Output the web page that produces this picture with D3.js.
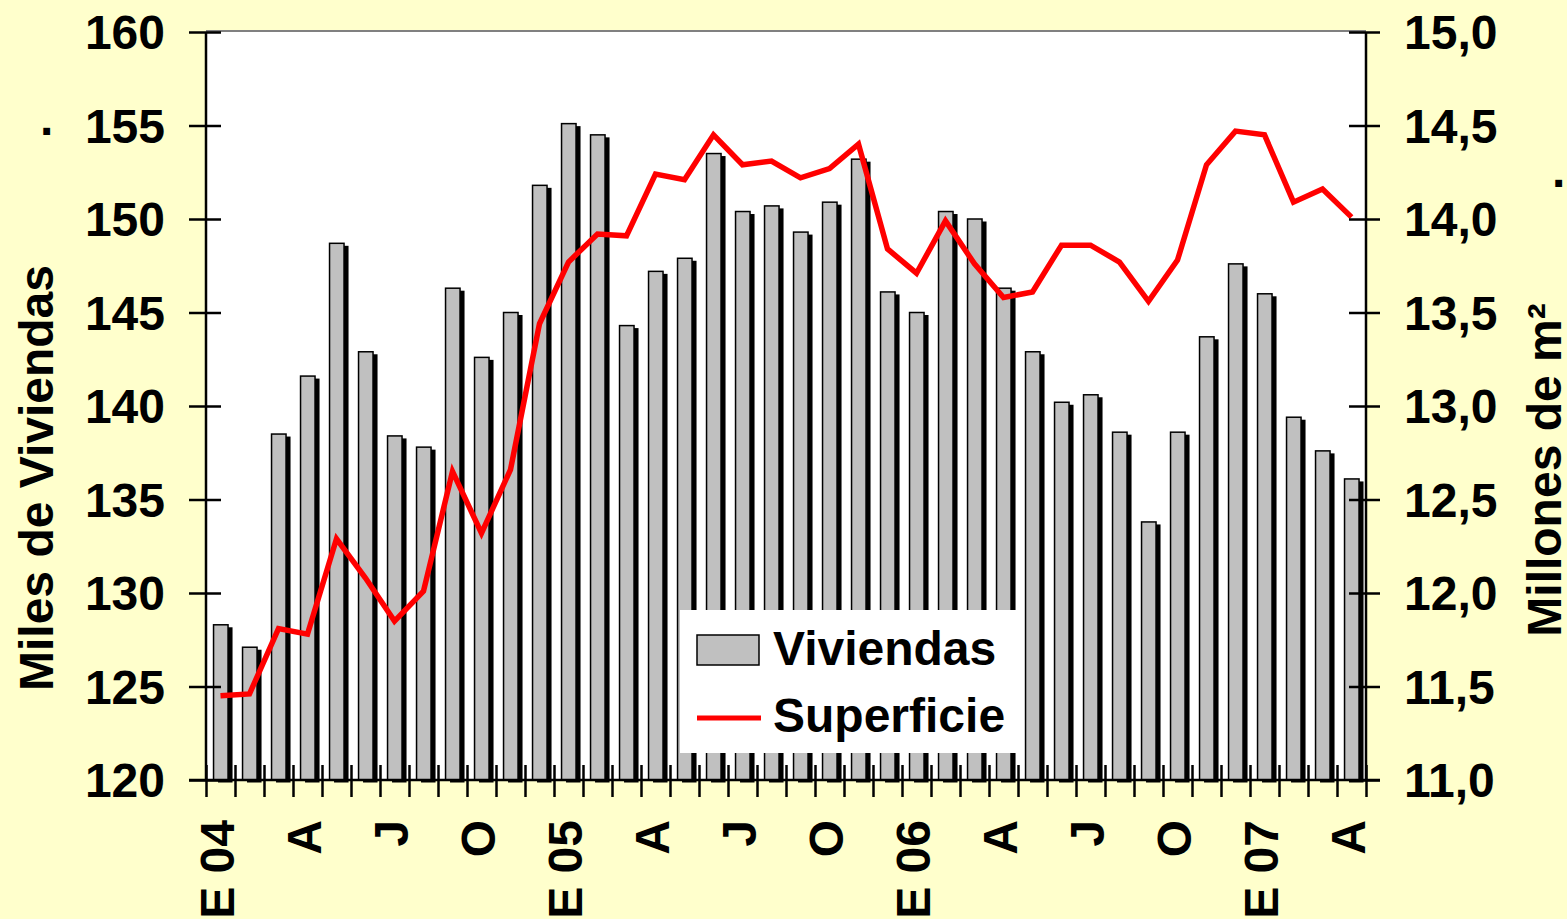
<!DOCTYPE html>
<html>
<head>
<meta charset="utf-8">
<script src="https://cdn.jsdelivr.net/npm/d3@7"></script>
<style>
  body { margin: 0; background: #ffffcc; }
  svg { display: block; }
  text { font-family: "Liberation Sans", Arial, sans-serif; font-weight: bold; fill: #000; }
</style>
</head>
<body>
<svg id="chart"></svg>
<script>
var width = 1567, height = 919;

// meses ene-04 .. abr-07
var meses = ["E04","F04","M04","A04","M04","J04","J04","A04","S04","O04","N04","D04",
             "E05","F05","M05","A05","M05","J05","J05","A05","S05","O05","N05","D05",
             "E06","F06","M06","A06","M06","J06","J06","A06","S06","O06","N06","D06",
             "E07","F07","M07","A07"];
var etiquetas = ["E 04","A","J","O","E 05","A","J","O","E 06","A","J","O","E 07","A"];
var viviendas = [128.3,127.1,138.5,141.6,148.7,142.9,138.4,137.8,146.3,142.6,145.0,151.8,
                 155.1,154.5,144.3,147.2,147.9,153.5,150.4,150.7,149.3,150.9,153.2,146.1,
                 145.0,150.4,150.0,146.3,142.9,140.2,140.6,138.6,133.8,138.6,143.7,147.6,
                 146.0,139.4,137.6,136.1];
var superficie = [11.45,11.46,11.81,11.78,12.29,12.08,11.85,12.01,12.65,12.32,12.66,13.44,
                  13.77,13.92,13.91,14.24,14.21,14.45,14.29,14.31,14.22,14.27,14.40,13.84,
                  13.71,13.99,13.76,13.58,13.61,13.86,13.86,13.77,13.56,13.78,14.29,14.47,
                  14.45,14.09,14.16,14.01];
var ticksIzq = [120,125,130,135,140,145,150,155,160];
var ticksDer = [11,11.5,12,12.5,13,13.5,14,14.5,15];

var pLeft = 206, pRight = 1366, pTop = 32, pBottom = 780;

var svg = d3.select("#chart")
    .attr("width", width)
    .attr("height", height);

svg.append("rect")
    .attr("width", width).attr("height", height)
    .attr("fill", "#ffffcc");

var x = d3.scaleBand()
    .domain(d3.range(meses.length))
    .range([pLeft, pRight])
    .padding(0);
var xb = d3.scaleLinear().domain([0, meses.length]).range([pLeft, pRight]);
var y = d3.scaleLinear().domain([120, 160]).range([pBottom, pTop]);
var y2 = d3.scaleLinear().domain([11, 15]).range([pBottom, pTop]);

var coma = d3.formatLocale({decimal: ",", thousands: ".", grouping: [3], currency: ["", "€"]});

// plot area
svg.append("rect")
    .attr("x", pLeft).attr("y", pTop)
    .attr("width", pRight - pLeft).attr("height", pBottom - pTop)
    .attr("fill", "#fff");
svg.append("line")
    .attr("x1", pLeft).attr("x2", pRight)
    .attr("y1", pTop - 1).attr("y2", pTop - 1)
    .attr("stroke", "#808080").attr("stroke-width", 2);

var bw = x.bandwidth();

// shadows
svg.append("g").selectAll("rect")
    .data(viviendas)
    .enter().append("rect")
    .attr("x", function(d, i){ return x(i) + bw * 0.26 + 4.5; })
    .attr("y", function(d){ return y(d) + 2.5; })
    .attr("width", bw * 0.5)
    .attr("height", function(d){ return pBottom - y(d); })
    .attr("fill", "#000");

// bars
svg.append("g").selectAll("rect")
    .data(viviendas)
    .enter().append("rect")
    .attr("x", function(d, i){ return x(i) + bw * 0.26; })
    .attr("y", function(d){ return y(d); })
    .attr("width", bw * 0.5)
    .attr("height", function(d){ return pBottom - y(d); })
    .attr("fill", "#c0c0c0")
    .attr("stroke", "#000")
    .attr("stroke-width", 1.5);

// line
var linea = d3.line()
    .x(function(d, i){ return x(i) + bw / 2; })
    .y(function(d){ return y2(d); });

svg.append("path")
    .datum(superficie)
    .attr("d", linea)
    .attr("fill", "none")
    .attr("stroke", "#ff0000")
    .attr("stroke-width", 5.5)
    .attr("stroke-linejoin", "miter");

// left axis
var ejeIzq = svg.append("g")
    .attr("transform", "translate(" + pLeft + ",0)")
    .call(d3.axisLeft(y).tickValues(ticksIzq).tickSize(17).tickPadding(24));
ejeIzq.selectAll(".tick line").attr("x2", -17).attr("x1", 15).attr("stroke-width", 2.5);
ejeIzq.select(".domain").attr("stroke-width", 2.5).attr("d", "M0," + pTop + "V" + pBottom);
ejeIzq.selectAll(".tick text").attr("font-size", 48).attr("font-family", null).attr("dy", "0.35em");

// right axis
var ejeDer = svg.append("g")
    .attr("transform", "translate(" + pRight + ",0)")
    .call(d3.axisRight(y2).tickValues(ticksDer).tickSize(14).tickPadding(24).tickFormat(coma.format(".1f")));
ejeDer.selectAll(".tick line").attr("x1", -17).attr("x2", 14).attr("stroke-width", 2.5);
ejeDer.select(".domain").attr("stroke-width", 2.5).attr("d", "M0," + pTop + "V" + pBottom);
ejeDer.selectAll(".tick text").attr("font-size", 48).attr("font-family", null).attr("dy", "0.35em");

// bottom axis
var ejeX = svg.append("g")
    .attr("transform", "translate(0," + pBottom + ")")
    .call(d3.axisBottom(xb).tickValues(d3.range(meses.length + 1)).tickSize(17).tickFormat(""));
ejeX.selectAll(".tick line").attr("y1", -15).attr("stroke-width", 2.5);
ejeX.select(".domain").attr("stroke-width", 2.5).attr("d", "M189,0H1380");

svg.append("g").selectAll("text")
    .data(etiquetas)
    .enter().append("text")
    .attr("transform", function(d, i){
        return "translate(" + (x(i * 3) + bw / 2 - 3) + ",820) rotate(-90)";
    })
    .attr("text-anchor", "end")
    .attr("dy", "0.35em")
    .attr("font-size", 48)
    .text(function(d){ return d; });

// axis titles
svg.append("text")
    .attr("transform", "translate(53,478) rotate(-90)")
    .attr("text-anchor", "middle")
    .attr("font-size", 48)
    .text("Miles de Viviendas");
svg.append("text")
    .attr("transform", "translate(1561,470) rotate(-90)")
    .attr("text-anchor", "middle")
    .attr("font-size", 48)
    .text("Millones de m²");
svg.append("text").attr("x", 40).attr("y", 135).attr("font-size", 48).text(".");
svg.append("text").attr("x", 1552).attr("y", 187).attr("font-size", 48).text(".");

// legend
var leg = svg.append("g");
leg.append("rect")
    .attr("x", 680).attr("y", 610).attr("width", 337).attr("height", 143)
    .attr("fill", "#fff");
leg.append("rect")
    .attr("x", 697).attr("y", 635).attr("width", 62).attr("height", 30)
    .attr("fill", "#c0c0c0").attr("stroke", "#000").attr("stroke-width", 1.5);
leg.append("text").attr("x", 773).attr("y", 665).attr("font-size", 48).text("Viviendas");
leg.append("line")
    .attr("x1", 697).attr("x2", 761).attr("y1", 718).attr("y2", 718)
    .attr("stroke", "#ff0000").attr("stroke-width", 5);
leg.append("text").attr("x", 773).attr("y", 732).attr("font-size", 48).text("Superficie");
</script>
</body>
</html>
